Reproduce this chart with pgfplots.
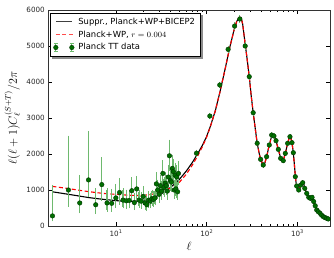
\documentclass[border=0pt]{standalone}
\usepackage{fontspec}
\setmainfont{DejaVu Sans}
\usepackage{pgfplots}
\pgfplotsset{compat=1.18}
\usepackage{pgfplotstable}

\pgfdeclarelayer{bg}
\pgfsetlayers{bg,main}

\definecolor{errgreen}{RGB}{110,185,110}
\definecolor{ptgreen}{RGB}{0,110,0}
\definecolor{ptedge}{RGB}{0,55,0}
\newcommand{\tp}[1]{10\raisebox{0.85ex}{\fontsize{5}{6}\selectfont #1}}

\pgfplotstableread{
l d em ep
2 280 100 810
3 1000 420 1460
4 640 240 730
5 1280 420 1310
6 590 210 410
7 1150 400 710
8 640 190 360
9 630 180 350
10 780 220 340
11 930 290 360
12 720 180 280
13 700 180 260
14 710 170 240
15 980 230 320
16 650 160 220
17 1030 240 310
18 720 170 230
19 690 160 210
20 820 180 240
21 640 150 190
22 590 130 180
23 720 160 200
24 690 150 190
25 760 160 200
26 740 150 190
27 780 160 200
28 1170 240 280
29 1000 200 240
30 880 180 210
31 1120 220 260
32 970 190 230
33 1460 280 320
34 1070 210 240
35 1190 230 260
36 1120 220 250
37 970 190 220
38 1360 260 290
39 1950 370 400
40 1260 240 270
41 1220 230 260
42 1600 300 330
43 1510 280 310
44 1000 190 220
45 1410 270 290
46 1030 200 220
47 1360 250 280
48 950 180 210
49 1460 270 300
77.5 2022 50 50
108.8 3055 45 45
140 3917 45 45
173 4907 50 50
204 5554 55 55
233 5750 60 60
267 5000 50 50
296 4148 40 40
327 3147 35 35
362 2297 30 30
395 1852 25 25
422 1694 25 25
460 1925 25 25
492 2250 25 25
523 2527 25 25
554 2500 25 25
584 2370 25 25
619 2129 20 20
657 1880 20 20
702 1814 20 20
739 2018 20 20
785 2297 20 20
832 2480 20 20
876 2314 20 20
906 2036 20 20
953 1370 20 20
987 1111 20 20
1039 1000 15 15
1093 1138 15 15
1150 1202 15 15
1211 1046 15 15
1274 908 15 15
1341 797 15 15
1400 768 15 15
1458 797 15 15
1520 680 15 15
1580 560 15 15
1643 444 15 15
1710 395 15 15
1787 353 15 15
1860 300 15 15
1942 259 15 15
2020 235 15 15
2117 214 15 15
2200 195 15 15
}\planckdata

\pgfplotstableread{
l d
2 950
3 880
4 830
5 790
6 765
7 745
8 730
10 705
12 690
15 685
18 695
20 710
25 770
30 860
35 960
40 1070
45 1180
50 1290
60 1530
70 1770
80 2010
90 2240
100 2480
110 2760
125 3200
140 3700
160 4350
180 4950
200 5420
215 5680
230 5800
240 5790
250 5620
267 5050
280 4650
296 4150
310 3650
327 3150
345 2700
362 2300
380 2030
395 1860
410 1760
422 1710
440 1750
460 1925
492 2250
523 2500
540 2535
554 2510
584 2370
619 2130
657 1890
680 1820
702 1820
739 2018
785 2297
810 2420
832 2480
850 2450
876 2314
906 2036
930 1720
953 1390
970 1220
987 1115
1010 1040
1039 1005
1070 1060
1093 1130
1150 1200
1180 1170
1211 1050
1274 905
1341 800
1400 775
1458 790
1520 680
1580 560
1643 450
1710 395
1787 350
1860 300
1942 260
2020 235
2117 212
2200 196
2300 180
}\suppr

\pgfplotstableread{
l d
2 1100
3 1040
4 990
5 955
6 930
7 910
8 895
10 880
12 865
15 850
18 845
20 850
25 880
30 935
35 1000
40 1045
45 1120
50 1210
60 1440
70 1700
80 1950
90 2200
100 2460
110 2750
125 3200
140 3700
160 4350
180 4950
200 5420
215 5680
230 5800
240 5790
250 5620
267 5050
280 4650
296 4150
310 3650
327 3150
345 2700
362 2300
380 2030
395 1860
410 1760
422 1710
440 1750
460 1925
492 2250
523 2500
540 2535
554 2510
584 2370
619 2130
657 1890
680 1820
702 1820
739 2018
785 2297
810 2420
832 2480
850 2450
876 2314
906 2036
930 1720
953 1390
970 1220
987 1115
1010 1040
1039 1005
1070 1060
1093 1130
1150 1200
1180 1170
1211 1050
1274 905
1341 800
1400 775
1458 790
1520 680
1580 560
1643 450
1710 395
1787 350
1860 300
1942 260
2020 235
2117 212
2200 196
2300 180
}\planckwp

\begin{document}
\begin{tikzpicture}
\begin{axis}[
  scale only axis, width=281.7pt, height=216pt,
  xmode=log, xmin=1.8, xmax=2300, ymin=0, ymax=6000,
  ytick={0,1000,2000,3000,4000,5000,6000},
  xtick={10,100,1000}, xticklabels={\tp{1},\tp{2},\tp{3}},
  tick label style={font=\fontsize{7.2}{8}\selectfont, text=black!85},
  /pgf/number format/assume math mode=true,
  /pgf/number format/1000 sep={},
  major tick length=4pt, minor tick length=2pt,
  tick align=inside, tick pos=both,
  every tick/.style={black, line width=0.5pt},
  axis line style={line width=0.8pt, black!80},
  xlabel={$\ell$},
  ylabel={$\ell(\ell+1)C_\ell^{(S+T)}/2\pi$},
  xlabel style={at={(axis description cs:0.5,-0.0958)}, anchor=center, font=\fontsize{12}{14}\selectfont},
  ylabel style={at={(axis description cs:-0.128,0.5)}, anchor=center, font=\fontsize{12}{14}\selectfont},
  legend style={name=leg, at={(rel axis cs:0.006,0.9875)}, anchor=north west,
    draw=black, line width=0.6pt, fill=white,
    font=\fontsize{8.4}{10.2}\selectfont, inner xsep=3pt, inner ysep=2.8pt,
    row sep=1pt, cells={anchor=west}},
]
\addplot[black, line width=1.1pt,
  legend image code/.code={\draw[draw=black!75, line width=1.1pt] (0pt,0pt)--(16pt,0pt); \path (-2pt,0pt) (20pt,0pt);}] table[x=l,y=d] {\suppr};
\addlegendentry{Suppr., Planck+WP+BICEP2}
\addplot[red, line width=1.1pt, dash pattern=on 4pt off 2.5pt,
  legend image code/.code={\draw[draw=red!70!white, line width=1.1pt, dash pattern=on 4pt off 2.5pt] (0pt,0pt)--(17pt,0pt); \path (-2pt,0pt) (20pt,0pt);}] table[x=l,y=d] {\planckwp};
\addlegendentry{Planck+WP, $r=0.004$}
\addplot[only marks, mark=*, mark size=2.3pt,
  mark options={fill=ptgreen, draw=ptedge, line width=0.4pt},
  error bars/.cd, y dir=both, y explicit,
  error bar style={draw=errgreen, line width=1.1pt},
  error mark options={draw=errgreen, mark size=1.8pt, line width=0.8pt},
  /pgfplots/legend image code/.code={
  \draw[draw=errgreen, line width=1pt] (0pt,-4pt)--(0pt,4pt) (-1.8pt,4pt)--(1.8pt,4pt) (-1.8pt,-4pt)--(1.8pt,-4pt)
     (16pt,-4pt)--(16pt,4pt) (14.2pt,4pt)--(17.8pt,4pt) (14.2pt,-4pt)--(17.8pt,-4pt);
  \filldraw[fill=ptgreen, draw=ptedge, line width=0.4pt] (0pt,0pt) circle (2.3pt) (16pt,0pt) circle (2.3pt);
  \path (-2pt,0pt) (20pt,0pt);},
  ] table[x=l, y=d, y error plus=ep, y error minus=em] {\planckdata};
\addlegendentry{Planck TT data}
\end{axis}
\begin{pgfonlayer}{bg}
\fill[black!45] ([shift={(2.2pt,-2.2pt)}]leg.south west) rectangle ([shift={(2.2pt,-2.2pt)}]leg.north east);
\end{pgfonlayer}
\pgfresetboundingbox
\path ([xshift=-48.3pt,yshift=-32pt]current axis.south west) rectangle ([xshift=4pt,yshift=10pt]current axis.north east);
\end{tikzpicture}
\end{document}
